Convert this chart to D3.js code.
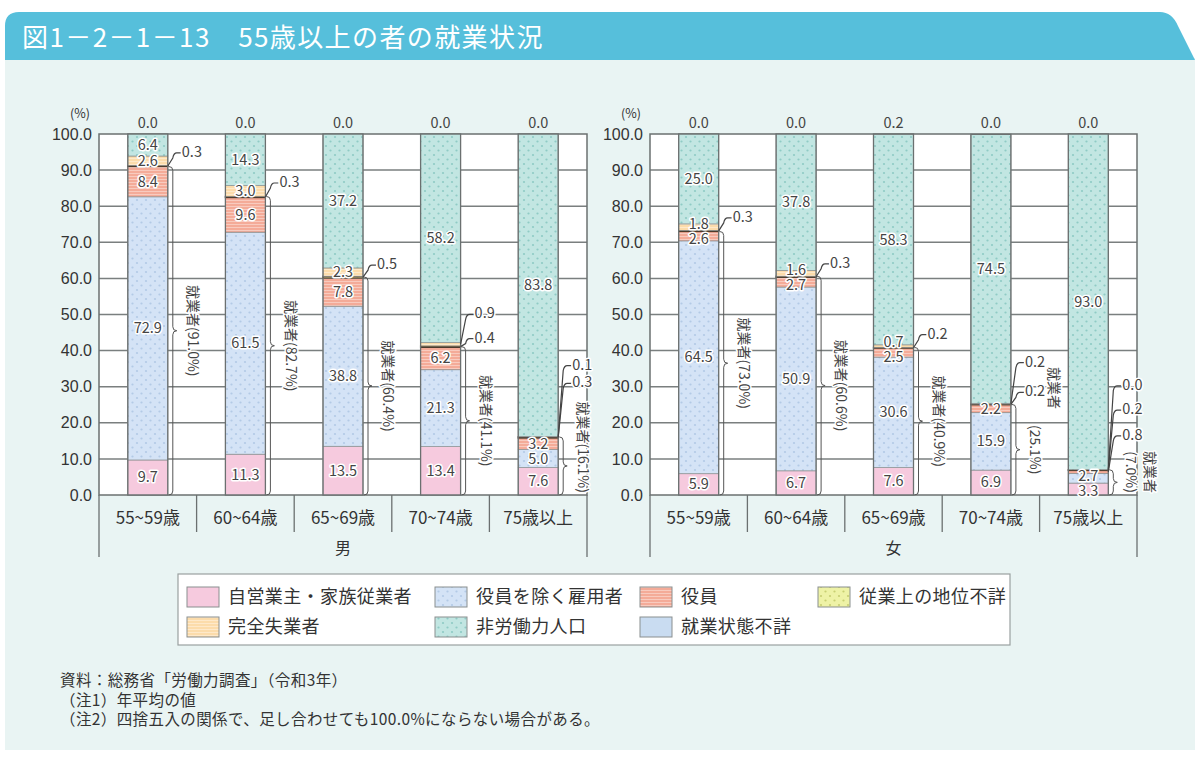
<!DOCTYPE html>
<html>
<head>
<meta charset="utf-8">
<script src="https://cdn.jsdelivr.net/npm/d3@7"></script>
<style>
  body { margin: 0; background: #fff; }
  svg { display: block; font-family: "Noto Sans CJK JP", "Noto Sans", sans-serif; }
</style>
</head>
<body>
<svg id="chart" width="1200" height="757"></svg>
<script>
// ---- data ----
const categories = ["55~59歳", "60~64歳", "65~69歳", "70~74歳", "75歳以上"];
const sexes = ["男", "女"];
const seriesNames = ["自営業主・家族従業者", "役員を除く雇用者", "役員", "従業上の地位不詳",
                     "完全失業者", "非労働力人口", "就業状態不詳"];

const selfEmpMen        = [9.7, 11.3, 13.5, 13.4, 7.6];
const employeeMen       = [72.9, 61.5, 38.8, 21.3, 5.0];
const executiveMen      = [8.4, 9.6, 7.8, 6.2, 3.2];
const statusUnknownMen  = [0.3, 0.3, 0.5, 0.4, 0.3];
const unemployedMen     = [2.6, 3.0, 2.3, 0.9, 0.1];
const notInLaborMen     = [6.4, 14.3, 37.2, 58.2, 83.8];
const laborUnknownMen   = [0.0, 0.0, 0.0, 0.0, 0.0];
const employedTotalMen  = [91.0, 82.7, 60.4, 41.1, 16.1];

const selfEmpWomen       = [5.9, 6.7, 7.6, 6.9, 3.3];
const employeeWomen      = [64.5, 50.9, 30.6, 15.9, 2.7];
const executiveWomen     = [2.6, 2.7, 2.5, 2.2, 0.8];
const statusUnknownWomen = [0.3, 0.3, 0.2, 0.2, 0.2];
const unemployedWomen    = [1.8, 1.6, 0.7, 0.2, 0.0];
const notInLaborWomen    = [25.0, 37.8, 58.3, 74.5, 93.0];
const laborUnknownWomen  = [0.0, 0.0, 0.2, 0.0, 0.0];
const employedTotalWomen = [73.0, 60.6, 40.9, 25.1, 7.0];

const yTicks = d3.range(0, 101, 10);

const notes = ["資料：総務省「労働力調査」（令和3年）",
               "（注1）年平均の値",
               "（注2）四捨五入の関係で、足し合わせても100.0%にならない場合がある。"];

// ---- build tables ----
const keys = ["selfEmp", "employee", "executive", "statusUnknown", "unemployed", "notInLabor", "laborUnknown"];
function rowsFor(cols) {
  return categories.map((c, i) => {
    const r = { cat: c, i };
    keys.forEach((k, j) => r[k] = cols[j][i]);
    return r;
  });
}
const tables = {
  "男": { rows: rowsFor([selfEmpMen, employeeMen, executiveMen, statusUnknownMen, unemployedMen, notInLaborMen, laborUnknownMen]), employed: employedTotalMen },
  "女": { rows: rowsFor([selfEmpWomen, employeeWomen, executiveWomen, statusUnknownWomen, unemployedWomen, notInLaborWomen, laborUnknownWomen]), employed: employedTotalWomen }
};

// ---- styles ----
const fills = {
  selfEmp: "#f6cade", employee: "url(#pDotBlue)", executive: "url(#pStripeRed)",
  statusUnknown: "url(#pDotYellow)", unemployed: "url(#pStripeOrange)",
  notInLabor: "url(#pDotTeal)", laborUnknown: "#c9dcf1"
};

const svg = d3.select("#chart");
const defs = svg.append("defs");
function dotPattern(id, bg, dot) {
  const p = defs.append("pattern").attr("id", id).attr("patternUnits", "userSpaceOnUse")
    .attr("width", 9).attr("height", 9);
  p.append("rect").attr("width", 9).attr("height", 9).attr("fill", bg);
  p.append("circle").attr("cx", 2).attr("cy", 2).attr("r", 1.1).attr("fill", dot);
  p.append("circle").attr("cx", 6.5).attr("cy", 6.5).attr("r", 1.1).attr("fill", dot);
}
function stripePattern(id, bg, line) {
  const p = defs.append("pattern").attr("id", id).attr("patternUnits", "userSpaceOnUse")
    .attr("width", 6).attr("height", 3);
  p.append("rect").attr("width", 6).attr("height", 3).attr("fill", bg);
  p.append("rect").attr("y", 2).attr("width", 6).attr("height", 1).attr("fill", line);
}
dotPattern("pDotBlue", "#d4e3f6", "#b3cae6");
dotPattern("pDotTeal", "#c2e6e2", "#8fcbc5");
dotPattern("pDotYellow", "#eef2a6", "#c8cf72");
stripePattern("pStripeRed", "#f4ab98", "#f8cbbf");
stripePattern("pStripeOrange", "#fcdcab", "#fee9ca");

// ---- page background & header ----
svg.append("rect").attr("x", 5).attr("y", 58).attr("width", 1190).attr("height", 692).attr("fill", "#e9f4f3");
svg.append("path")
  .attr("d", "M5,60 V26 Q5,12 19,12 H1160 Q1172,12 1178,26 L1195,60 Z")
  .attr("fill", "#56bfdb");
svg.append("text").attr("x", 22).attr("y", 47)
  .attr("fill", "#fff").attr("font-size", 26).attr("letter-spacing", 1.4)
  .text("図1－2－1－13　55歳以上の者の就業状況");

// ---- panels ----
const y = d3.scaleLinear().domain([0, 100]).range([495, 134]).clamp(true);
const barW = 40;
const panelX = { "男": [99, 587], "女": [650, 1137] };
// leader label layout: lift above segment for the lowest label, then gap between labels
const leaderLift = { "男": [13, 14, 12, 8, 54], "女": [13, 13, 13, 12, 36] };
const leaderGap  = { "男": [22, 22, 22, 22, 17], "女": [22, 22, 22, 29, 24] };

function halo(sel) {
  return sel.attr("stroke", "#fff").attr("stroke-width", 3).attr("stroke-linejoin", "round")
    .attr("paint-order", "stroke");
}

sexes.forEach(sex => {
  const [x0, x1] = panelX[sex];
  const tb = tables[sex];
  const x = d3.scaleBand().domain(categories).range([x0, x1]);
  const g = svg.append("g");

  // plot area
  g.append("rect").attr("x", x0).attr("y", y(100)).attr("width", x1 - x0).attr("height", y(0) - y(100))
    .attr("fill", "#fff");
  g.selectAll(".grid").data(yTicks.slice(1, -1)).join("line")
    .attr("x1", x0).attr("x2", x1).attr("y1", d => y(d)).attr("y2", d => y(d))
    .attr("stroke", "#7a7f7f").attr("stroke-width", 1.5);
  g.append("rect").attr("x", x0).attr("y", y(100)).attr("width", x1 - x0).attr("height", y(0) - y(100))
    .attr("fill", "none").attr("stroke", "#6b7070").attr("stroke-width", 1.5);

  // y axis
  const ax = g.append("g").attr("transform", `translate(${x0},0)`)
    .call(d3.axisLeft(y).tickValues(yTicks).tickFormat(d3.format(".1f")).tickSize(0).tickPadding(7));
  ax.select(".domain").remove();
  ax.selectAll("text").attr("font-size", 16).attr("fill", "#333").attr("font-family", "Liberation Sans, Arial, sans-serif");
  g.append("text").attr("x", x0 - 19).attr("y", 118).attr("text-anchor", "middle")
    .attr("font-size", 12.5).attr("fill", "#333").text("(%)");

  // stacks
  const stacked = d3.stack().keys(keys)(tb.rows);
  const bx = d => x(d.data.cat) + (x.bandwidth() - barW) / 2;
  stacked.forEach(s => {
    g.selectAll(null).data(s).join("rect")
      .attr("x", bx).attr("width", barW)
      .attr("y", d => y(d[1])).attr("height", d => Math.max(0, y(d[0]) - y(d[1])))
      .attr("fill", fills[s.key])
      .attr("stroke", s.key === "statusUnknown" ? "#4d3b2c" : "#8a8f8f")
      .attr("stroke-width", s.key === "statusUnknown" ? 1.3 : 0.7);
  });
  // bar outlines
  g.selectAll(null).data(tb.rows).join("rect")
    .attr("x", d => x(d.cat) + (x.bandwidth() - barW) / 2).attr("width", barW)
    .attr("y", d => y(d3.sum(keys, k => d[k]))).attr("height", d => y(0) - y(d3.sum(keys, k => d[k])))
    .attr("fill", "none").attr("stroke", "#6b7070").attr("stroke-width", 1.3);

  // value labels
  const isLeader = (key, v, i) =>
    ["executive", "statusUnknown", "unemployed"].includes(key) && v < 1 &&
    !(sex === "女" && i === 2 && key === "unemployed");
  const leaderCount = categories.map(() => 0);
  const inline = categories.map(() => []);
  stacked.forEach(s => {
    s.forEach(d => {
      const i = d.data.i, v = d.data[s.key];
      const cx = x(d.data.cat) + x.bandwidth() / 2;
      const br = cx + barW / 2;
      if (s.key === "laborUnknown") {
        g.append("text").attr("x", cx).attr("y", 124).attr("text-anchor", "middle")
          .attr("dominant-baseline", "middle").attr("font-size", 14.5).attr("fill", "#444")
          .text(v.toFixed(1));
      } else if (isLeader(s.key, v, i)) {
        const segY = (y(d[0]) + y(d[1])) / 2;
        const ly = segY - leaderLift[sex][i] - leaderGap[sex][i] * leaderCount[i];
        leaderCount[i]++;
        g.append("path")
          .attr("d", `M${br},${segY} L${br + 5},${ly + 5} Q${br + 6},${ly} ${br + 9},${ly} L${br + 13},${ly}`)
          .attr("fill", "none").attr("stroke", "#444").attr("stroke-width", 1.2);
        halo(g.append("text")).attr("x", br + 14).attr("y", ly).attr("dominant-baseline", "middle")
          .attr("font-size", 14.5).attr("fill", "#444").text(v.toFixed(1));
      } else {
        inline[i].push({ cx, ly: (y(d[0]) + y(d[1])) / 2 + 1, v });
      }
    });
  });
  // nudge adjacent small-segment labels apart, then draw
  inline.forEach(list => {
    for (let j = 1; j < list.length; j++) {
      const a = list[j - 1], b = list[j];
      const gap = a.ly - b.ly;
      if (gap < 15) {
        const m = (a.ly + b.ly) / 2;
        a.ly = m + 7.5; b.ly = m - 7.5;
      }
    }
    list.forEach(l => {
      halo(g.append("text")).attr("x", l.cx).attr("y", l.ly)
        .attr("text-anchor", "middle").attr("dominant-baseline", "middle")
        .attr("font-size", 14.5).attr("fill", "#444").text(l.v.toFixed(1));
    });
  });

  // employed braces
  tb.employed.forEach((v, i) => {
    const cx = x(categories[i]) + x.bandwidth() / 2;
    const br = cx + barW / 2 + 1;
    const yT = y(v), yB = y(0), ym = (yT + yB) / 2, w = 4;
    g.append("path")
      .attr("d", `M${br},${yT} Q${br + w},${yT} ${br + w},${yT + w} L${br + w},${ym - w} ` +
                 `Q${br + w},${ym} ${br + 2 * w},${ym} Q${br + w},${ym} ${br + w},${ym + w} ` +
                 `L${br + w},${yB - w} Q${br + w},${yB} ${br},${yB}`)
      .attr("fill", "none").attr("stroke", "#555").attr("stroke-width", 1);
    const label = (tx, ty, str) => halo(g.append("text"))
      .attr("transform", `translate(${tx},${ty}) rotate(90)`)
      .attr("text-anchor", "middle").attr("dominant-baseline", "middle")
      .attr("font-size", 14).attr("fill", "#444").text(str);
    const pct = "(" + v.toFixed(1) + "%)";
    if (sex === "女" && i === 3) {
      const t2 = label(br + 22, ym, pct);
      const l2 = t2.node().getComputedTextLength();
      const t1 = label(br + 41, 0, "就業者");
      const l1 = t1.node().getComputedTextLength();
      t1.attr("transform", `translate(${br + 41},${ym - l2 / 2 - 16 - l1 / 2}) rotate(90)`);
    } else if (sex === "女" && i === 4) {
      const t2 = label(br + 20, 0, pct);
      const l2 = t2.node().getComputedTextLength();
      const cy = Math.min(ym, yB - l2 / 2 - 2);
      t2.attr("transform", `translate(${br + 20},${cy}) rotate(90)`);
      label(br + 39, cy, "就業者");
    } else {
      const t = label(br + 23, 0, "就業者" + pct);
      const len = t.node().getComputedTextLength();
      const cy = Math.min(ym, yB - len / 2 - 2);
      t.attr("transform", `translate(${br + 23},${cy}) rotate(90)`);
    }
  });

  // category axis cells
  const bounds = categories.map(c => x(c)).concat([x1]);
  g.selectAll(null).data(bounds).join("line")
    .attr("x1", d => d).attr("x2", d => d).attr("y1", y(0))
    .attr("y2", (d, j) => (j === 0 || j === bounds.length - 1) ? 557 : 532)
    .attr("stroke", "#6b7070").attr("stroke-width", 1.3);
  g.selectAll(null).data(categories).join("text")
    .attr("x", d => x(d) + x.bandwidth() / 2).attr("y", 519)
    .attr("text-anchor", "middle").attr("dominant-baseline", "middle")
    .attr("font-size", 17).attr("fill", "#333").text(d => d);
  g.append("text").attr("x", (x0 + x1) / 2).attr("y", 550)
    .attr("text-anchor", "middle").attr("dominant-baseline", "middle")
    .attr("font-size", 16).attr("fill", "#333").text(sex);
});

// ---- legend ----
const lg = svg.append("g");
lg.append("rect").attr("x", 178).attr("y", 574).attr("width", 832).attr("height", 71)
  .attr("fill", "#fff").attr("stroke", "#9aa0a0").attr("stroke-width", 1.2);
const legendCol = [187, 435, 640, 818];
const legendRow = [597, 627];
const legendPos = [[0, 0], [1, 0], [2, 0], [3, 0], [0, 1], [1, 1], [2, 1]];
keys.forEach((k, j) => {
  const [c, r] = legendPos[j];
  lg.append("rect").attr("x", legendCol[c]).attr("y", legendRow[r] - 10).attr("width", 32).attr("height", 20)
    .attr("fill", fills[k]).attr("stroke", "#8a8f8f").attr("stroke-width", 1);
  lg.append("text").attr("x", legendCol[c] + 41).attr("y", legendRow[r] + 1)
    .attr("dominant-baseline", "middle").attr("font-size", 18).attr("letter-spacing", 0.4)
    .attr("fill", "#333").text(seriesNames[j]);
});

// ---- notes ----
svg.selectAll(".note").data(notes).join("text")
  .attr("x", 60).attr("y", (d, j) => 686 + j * 19.5)
  .attr("font-size", 15.5).attr("letter-spacing", 0.4).attr("fill", "#333").text(d => d);
</script>
</body>
</html>
